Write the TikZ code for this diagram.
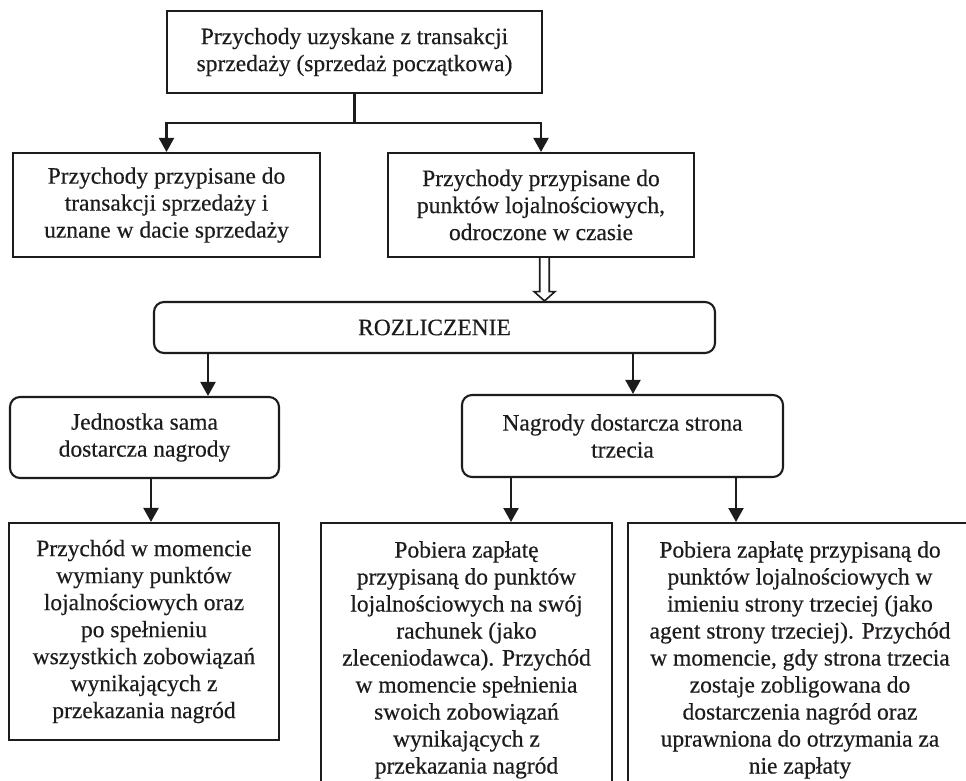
\documentclass[tikz,border=0pt]{standalone}
\usepackage{fontspec}
\setmainfont{Liberation Serif}[FakeBold=0.4]
\usetikzlibrary{arrows.meta,calc}
\definecolor{ink}{RGB}{30,27,28}
\begin{document}
\begin{tikzpicture}[x=1pt,y=-1pt,
  every node/.style={font=\fontsize{23.5}{27}\selectfont, text=ink, inner sep=0pt, align=center},
  box/.style={draw=ink, line width=2.1pt},
  rbox/.style={box, rounded corners=10pt},
  arr/.style={draw=ink, line width=2.1pt, -{Triangle[width=15pt,length=14pt]}},
  ln/.style={draw=ink, line width=2.1pt},
  hollow/.style={draw=ink, line width=1.6pt, fill=white, line join=miter}]
\useasboundingbox (0,0) rectangle (966,780);
\clip (0,0) rectangle (966,780);

\node[box, minimum width=375pt, minimum height=82pt] (top) at (354.5,52)
  {Przychody uzyskane z transakcji\\sprzedaży (sprzedaż początkowa)};
\node[box, minimum width=307pt, minimum height=104pt] (b1) at (166.5,205)
  {Przychody przypisane do\\transakcji sprzedaży i\\uznane w dacie sprzedaży};
\node[box, minimum width=306pt, minimum height=104pt] (b2) at (541,205)
  {Przychody przypisane do\\punktów lojalnościowych,\\odroczone w czasie};
\node[rbox, minimum width=561pt, minimum height=51pt] (roz) at (434.5,327.5)
  {ROZLICZENIE};
\node[rbox, minimum width=269pt, minimum height=81pt] (jed) at (144.5,437.5)
  {Jednostka sama\\dostarcza nagrody};
\node[rbox, minimum width=321pt, minimum height=82pt] (nag) at (622.5,436)
  {Nagrody dostarcza strona\\trzecia};
\node[box, minimum width=270pt, minimum height=217pt] (p1) at (144,631.5)
  {Przychód w momencie\\wymiany punktów\\lojalnościowych oraz\\po spełnieniu\\wszystkich zobowiązań\\wynikających z\\przekazania nagród};
\node[box, minimum width=291pt, minimum height=300pt, anchor=north] (p2) at (466.5,522) {};
\node[anchor=north] (t2) at ($(p2.north)+(0,19)$)
  {Pobiera zapłatę\\przypisaną do punktów\\lojalnościowych na swój\\rachunek (jako\\zleceniodawca). Przychód\\w momencie spełnienia\\swoich zobowiązań\\wynikających z\\przekazania nagród};
\node[box, minimum width=344pt, minimum height=300pt, anchor=north] (p3) at (800,522) {};
\node[anchor=north] (t3) at ($(p3.north)+(0,19)$)
  {Pobiera zapłatę przypisaną do\\punktów lojalnościowych w\\imieniu strony trzeciej (jako\\agent strony trzeciej). Przychód\\w momencie, gdy strona trzecia\\zostaje zobligowana do\\dostarczenia nagród oraz\\uprawniona do otrzymania za\\nie zapłaty};

% top split
\coordinate (j) at ($(top.south)+(0,29)$);
\draw[ln] (top.south) -- (j);
\draw[arr] (j) -| (b1.north);
\draw[arr] (j) -| (b2.north);

% hollow arrow
\coordinate (h) at ($(b2.south)+(3.5,0)$);
\draw[hollow] ($(h)+(-4.75,0)$) -- ($(h)+(-4.75,33.5)$) -- ($(h)+(-10.5,33.5)$)
  -- (h |- roz.north) -- ($(h)+(10.5,33.5)$) -- ($(h)+(4.75,33.5)$) -- ($(h)+(4.75,0)$);

% from ROZLICZENIE
\coordinate (a1) at (208,0);
\coordinate (a2) at (633,0);
\draw[arr] (roz.south -| a1) -- (jed.north -| a1);
\draw[arr] (roz.south -| a2) -- (nag.north -| a2);

% lower arrows
\coordinate (a3) at (151,0);
\coordinate (a4) at (511,0);
\coordinate (a5) at (736,0);
\draw[arr] (jed.south -| a3) -- (p1.north -| a3);
\draw[arr] (nag.south -| a4) -- (p2.north -| a4);
\draw[arr] (nag.south -| a5) -- (p3.north -| a5);
\end{tikzpicture}
\end{document}
